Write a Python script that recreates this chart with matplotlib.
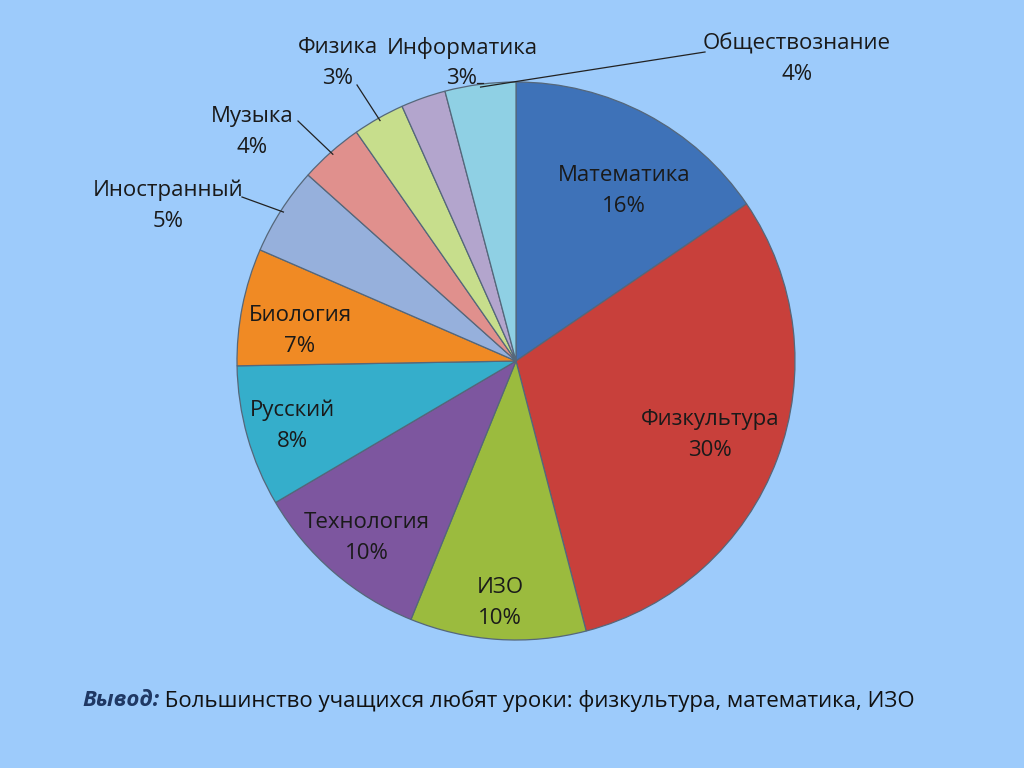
import matplotlib
matplotlib.use("Agg")
import matplotlib.pyplot as plt
import numpy as np

subjects = ["Математика", "Физкультура", "ИЗО", "Технология", "Русский", "Биология",
            "Иностранный", "Музыка", "Физика", "Информатика", "Обществознание"]
shares = [15.5, 30.5, 10.2, 10.4, 8.2, 6.8, 5.1, 3.7, 3.0, 2.6, 4.1]
pct_labels = ["16%", "30%", "10%", "10%", "8%", "7%", "5%", "4%", "3%", "3%", "4%"]
colors = ["#3E72B8", "#C8403B", "#9BBB3E", "#7D569F", "#35AECB", "#F08A24",
          "#96B0DC", "#E0908D", "#C7DE8C", "#B3A5CD", "#8FD0E4"]
conclusion_head = "Вывод:"
conclusion_body = " Большинство учащихся любят уроки: физкультура, математика, ИЗО"

FONT = ["Open Sans", "DejaVu Sans"]
plt.rcParams['font.family'] = FONT
bg = "#9DCBFB"
H = 768

fig = plt.figure(figsize=(10.24, 7.68), dpi=100, facecolor=bg)
ax = fig.add_axes([0, 0, 1, 1])
ax.set_facecolor(bg)

cx, cy, R = 516, H - 361, 279
wedges, _ = ax.pie(shares, colors=colors, startangle=90, counterclock=False,
                   center=(cx, cy), radius=R, frame=True,
                   wedgeprops=dict(edgecolor="#55677a", linewidth=0.9))
ax.set_xlim(0, 1024)
ax.set_ylim(0, H)
ax.set_aspect('equal')
ax.axis('off')

fs = 16
ls = 1.6
txtc = "#1a1a1a"
# label centres (pixels from top-left), layout only
label_pos = {
    0: (624, 191), 1: (710, 435), 2: (500, 603), 3: (367, 538), 4: (292, 426),
    5: (300, 331), 6: (168, 206), 7: (252, 132), 8: (338, 63), 9: (462, 63),
    10: (797, 59),
}
for i, (tx, ty) in label_pos.items():
    ax.text(tx, H - ty, subjects[i] + "\n" + pct_labels[i], ha='center', va='center',
            fontsize=fs, color=txtc, linespacing=ls)

# leader lines: index -> start point (pixels)
leaders = {6: (242, 197), 7: (298, 121), 8: (357, 85), 10: (705, 52)}
for i, (lx, ly) in leaders.items():
    w = wedges[i]
    ang = np.deg2rad((w.theta1 + w.theta2) / 2)
    ex = cx + 0.99 * R * np.cos(ang)
    ey = cy + 0.99 * R * np.sin(ang)
    ax.plot([lx, ex], [H - ly, ey], color="#222222", lw=0.9)
# short tick after Информатика 3%
ax.plot([477, 483], [H - 83, H - 83], color="#222222", lw=0.9)

t1 = ax.text(82, H - 701, conclusion_head, fontsize=16, fontweight='bold',
             fontstyle='italic', color="#1F3864", va='center', ha='left')
fig.canvas.draw()
bb = t1.get_window_extent()
x_end = ax.transData.inverted().transform((bb.x1, bb.y0))[0]
ax.text(x_end, H - 701, conclusion_body, fontsize=16, color="#111111",
        va='center', ha='left')

fig.savefig("out.png", dpi=100, facecolor=bg)
